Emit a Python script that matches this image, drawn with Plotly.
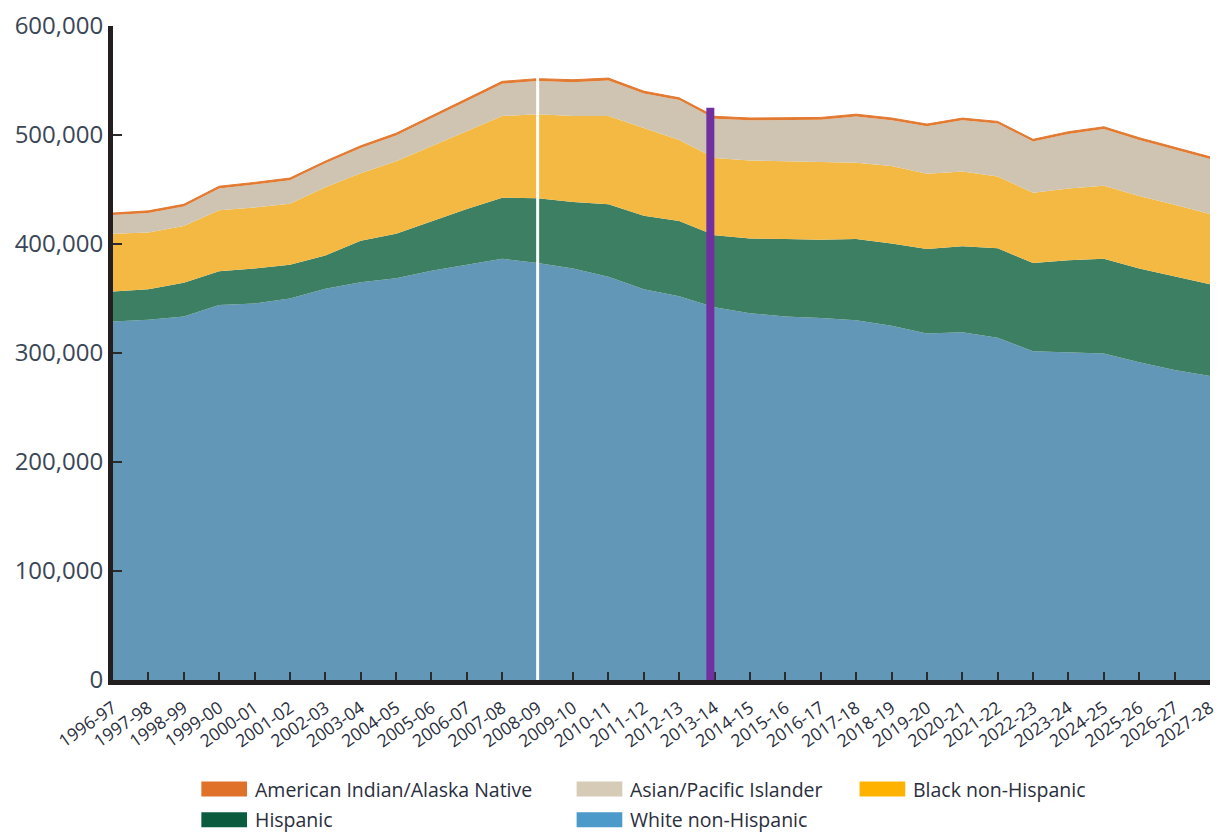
import plotly.graph_objects as go

# ---------------- data ----------------
years = ["1996-97", "1997-98", "1998-99", "1999-00", "2000-01", "2001-02", "2002-03",
         "2003-04", "2004-05", "2005-06", "2006-07", "2007-08", "2008-09", "2009-10",
         "2010-11", "2011-12", "2012-13", "2013-14", "2014-15", "2015-16", "2016-17",
         "2017-18", "2018-19", "2019-20", "2020-21", "2021-22", "2022-23", "2023-24",
         "2024-25", "2025-26", "2026-27", "2027-28"]

white_non_hispanic = [329000, 330500, 333500, 344000, 345500, 350000, 359000, 365000,
                      368500, 375500, 381000, 386500, 382500, 377500, 370000, 358500,
                      352000, 342000, 336500, 333500, 332000, 330000, 325000, 318000,
                      319000, 314000, 301500, 300500, 299500, 291500, 284500, 279000]
hispanic = [27500, 28000, 31000, 31000, 32000, 31000, 30500, 38000,
            41000, 45500, 51000, 56000, 59500, 61000, 66500, 67500,
            69000, 66000, 68500, 71000, 72000, 74500, 75500, 77500,
            79000, 82000, 81000, 84500, 87000, 86000, 85500, 84000]
black_non_hispanic = [53000, 52000, 52000, 56000, 56000, 56000, 62500, 62000,
                      66500, 69000, 72000, 75000, 77000, 79000, 81000, 80500,
                      74500, 71000, 71500, 71500, 71500, 70000, 71000, 69000,
                      68500, 66000, 64500, 66000, 67000, 66500, 66000, 64500]
asian_pacific_islander = [17000, 18000, 18000, 20000, 21000, 21500, 22000, 23000,
                          23500, 25500, 27000, 29500, 30500, 31000, 32500, 31500,
                          36500, 36000, 37000, 38000, 38500, 42500, 42000, 43500,
                          47000, 48500, 47000, 50000, 52000, 51500, 50500, 50500]
american_indian = [1900, 1900, 1900, 2000, 2000, 2000, 2000, 2100,
                   2100, 2100, 2200, 2200, 2200, 2200, 2200, 2200,
                   2100, 2100, 2100, 2100, 2100, 2100, 2100, 2000,
                   2000, 2000, 2000, 2000, 2000, 2000, 2000, 2000]

y_ticks = [0, 100000, 200000, 300000, 400000, 500000, 600000]

series_names = ["White non-Hispanic", "Hispanic", "Black non-Hispanic",
                "Asian/Pacific Islander", "American Indian/Alaska Native"]

# ---------------- styles ----------------
area_colors = {
    "White non-Hispanic": "#6397B7",
    "Hispanic": "#3C7F62",
    "Black non-Hispanic": "#F4B942",
    "Asian/Pacific Islander": "#CEC4B1",
    "American Indian/Alaska Native": "#E27A32",
}
legend_colors = {
    "American Indian/Alaska Native": "#E07128",
    "Asian/Pacific Islander": "#D6CBB6",
    "Black non-Hispanic": "#FFB300",
    "Hispanic": "#0B5C3F",
    "White non-Hispanic": "#4B9ACA",
}

W, H = 1226, 834
ML, MR, MT, MB = 113, 8, 20, 154
PW, PH = W - ML - MR, H - MT - MB

def px_x(px):
    return (px - ML) / PW

def px_y(py):
    return (H - MB - py) / PH

x_idx = list(range(len(years)))
series_values = [white_non_hispanic, hispanic, black_non_hispanic,
                 asian_pacific_islander, american_indian]

fig = go.Figure()
for name, vals in zip(series_names, series_values):
    is_top = name == "American Indian/Alaska Native"
    fig.add_trace(go.Scatter(
        x=x_idx, y=vals, name=name, stackgroup="one", mode="lines",
        line=dict(width=1.0 if is_top else 0, color=area_colors[name]),
        fillcolor=area_colors[name], showlegend=False,
        hovertemplate="%{y:,}<extra>" + name + "</extra>",
    ))

# reference lines
i_white = years.index("2008-09")
i_purple = years.index("2013-14")
fig.add_shape(type="line", xref="x", yref="y", x0=i_white, x1=i_white,
              y0=0, y1=553000, line=dict(color="white", width=3), layer="above")
fig.add_shape(type="line", xref="x", yref="y", x0=i_purple - 0.12, x1=i_purple - 0.12,
              y0=0, y1=525000, line=dict(color="#7030A0", width=8), layer="above")

# custom legend (rectangular swatches + text)
legend_layout = [
    ("American Indian/Alaska Native", 202, 790),
    ("Asian/Pacific Islander", 580, 790),
    ("Black non-Hispanic", 865, 790),
    ("Hispanic", 202, 821),
    ("White non-Hispanic", 580, 821),
]
for name, sx, sy in legend_layout:
    fig.add_shape(type="rect", xref="paper", yref="paper",
                  x0=px_x(sx), x1=px_x(sx + 46), y0=px_y(sy - 7.5), y1=px_y(sy + 7.5),
                  fillcolor=legend_colors[name], line=dict(width=0))
    fig.add_annotation(xref="paper", yref="paper", x=px_x(sx + 52), y=px_y(sy),
                       xanchor="left", yanchor="middle", text=name, showarrow=False,
                       font=dict(family="Open Sans", size=19.5, color="#2A2E3C"))

fig.update_layout(
    width=W, height=H,
    margin=dict(l=ML, r=MR, t=MT, b=MB),
    paper_bgcolor="white", plot_bgcolor="white",
    showlegend=False,
    xaxis=dict(
        range=[0, len(years) - 1], tickmode="array", tickvals=x_idx, ticktext=years,
        tickangle=-35, ticks="inside", ticklen=8, tickwidth=2, tickcolor="#2B2B2B",
        showline=True, linewidth=5, linecolor="#231F20", showgrid=False, zeroline=False,
        tickfont=dict(family="Open Sans", size=17.5, color="#2A2E3C"),
        ticklabelstandoff=6,
    ),
    yaxis=dict(
        range=[0, 600000], tickmode="array", tickvals=y_ticks, tickformat=",",
        ticks="inside", ticklen=9, tickwidth=2, tickcolor="#2B2B2B",
        showline=True, linewidth=5, linecolor="#231F20", showgrid=False, zeroline=False,
        tickfont=dict(family="Open Sans", size=24, color="#3A4656"),
    ),
)

fig.write_html("out.html")
